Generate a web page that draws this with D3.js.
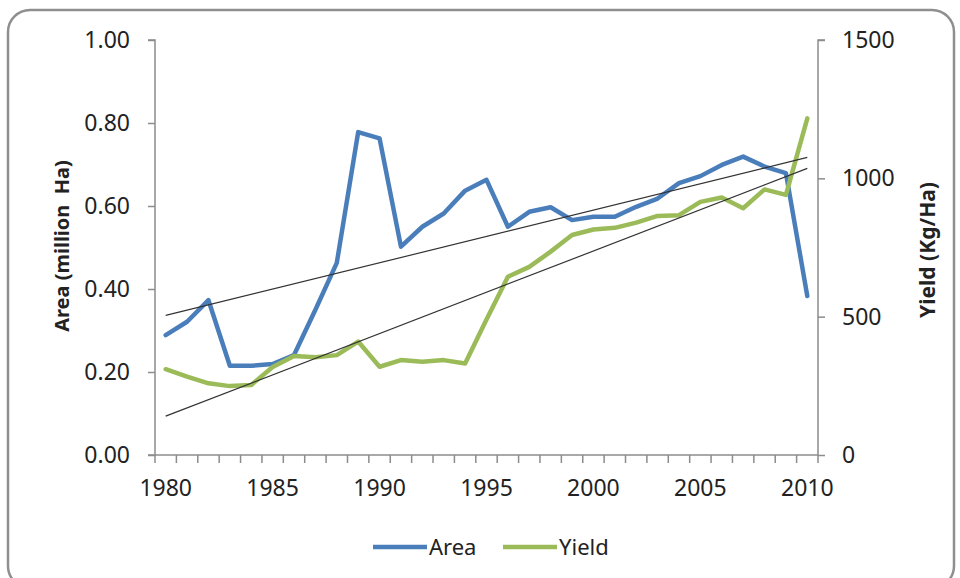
<!DOCTYPE html>
<html>
<head>
<meta charset="utf-8">
<script src="https://cdn.jsdelivr.net/npm/d3@7"></script>
<style>
  html, body { margin: 0; padding: 0; background: #fff; }
  svg { display: block; font-family: "Noto Sans", "Open Sans", sans-serif; }
</style>
</head>
<body>
<svg id="chart" width="960" height="578"></svg>
<script>
// Harvested area (million ha) and yield (kg/ha), 1980–2010
const years = d3.range(1980, 2011);
const area = [0.289, 0.321, 0.373, 0.215, 0.215, 0.219, 0.241, 0.350, 0.463, 0.778,
              0.763, 0.502, 0.550, 0.582, 0.637, 0.663, 0.550, 0.586, 0.597, 0.566,
              0.574, 0.574, 0.598, 0.618, 0.655, 0.672, 0.699, 0.719, 0.695, 0.679, 0.383];
const yieldKg = [310, 283, 259, 249, 253, 318, 358, 353, 361, 410,
                 319, 343, 337, 343, 331, 490, 644, 680, 735, 795,
                 815, 821, 840, 864, 867, 915, 931, 892, 960, 940, 1217];
const areaTicks = [0, 0.2, 0.4, 0.6, 0.8, 1.0];
const yieldTicks = [0, 500, 1000, 1500];
const yearLabels = [1980, 1985, 1990, 1995, 2000, 2005, 2010];
const seriesNames = ["Area", "Yield"];

const colors = { Area: "#4a7ebb", Yield: "#9bbb59" };
const axisColor = "#8c8c8c";
const textColor = "#222";
const tickFont = 23;

const svg = d3.select("#chart");
const plot = { left: 155, right: 818, top: 40, bottom: 455 };

// Outer chart frame
svg.append("rect")
  .attr("x", 8).attr("y", 10).attr("width", 946).attr("height", 578)
  .attr("rx", 22).attr("ry", 22)
  .attr("fill", "#fff").attr("stroke", "#8f8f8f").attr("stroke-width", 2.5);

const x = d3.scaleBand().domain(years).range([plot.left, plot.right]).padding(0);
const xc = yr => x(yr) + x.bandwidth() / 2;
const yA = d3.scaleLinear().domain([0, 1]).range([plot.bottom, plot.top]);
const yY = d3.scaleLinear().domain([0, 1500]).range([plot.bottom, plot.top]);

// Left axis
const gL = svg.append("g").attr("transform", `translate(${plot.left},0)`)
  .call(d3.axisLeft(yA).tickValues(areaTicks).tickFormat(d3.format(".2f"))
    .tickSize(7).tickPadding(18));
// Right axis
const gR = svg.append("g").attr("transform", `translate(${plot.right},0)`)
  .call(d3.axisRight(yY).tickValues(yieldTicks).tickFormat(d3.format("d"))
    .tickSize(7).tickPadding(17));
// Bottom axis: tick marks on category boundaries, labels every five years
const gB = svg.append("g").attr("transform", `translate(0,${plot.bottom})`);
gB.append("line").attr("x1", plot.left - 7).attr("x2", plot.right)
  .attr("stroke", axisColor).attr("stroke-width", 1.5);
gB.selectAll("line.tk").data(years.concat([null])).join("line").attr("class", "tk")
  .attr("x1", (d, i) => i < years.length ? x(d) : plot.right)
  .attr("x2", (d, i) => i < years.length ? x(d) : plot.right)
  .attr("y1", 0).attr("y2", 8)
  .attr("stroke", axisColor).attr("stroke-width", 1.5);
gB.selectAll("text").data(yearLabels).join("text")
  .attr("x", d => xc(d)).attr("y", 41)
  .attr("text-anchor", "middle")
  .attr("font-size", tickFont).attr("fill", textColor)
  .text(d => d);

[gL, gR].forEach(g => {
  g.select(".domain").attr("stroke", axisColor).attr("stroke-width", 1.5);
  g.selectAll(".tick line").attr("stroke", axisColor).attr("stroke-width", 1.5);
  g.selectAll(".tick text").attr("font-size", tickFont).attr("fill", textColor)
    .attr("font-family", "Noto Sans, sans-serif");
});
gL.select(".domain").attr("d", `M-7,${plot.top}H0V${plot.bottom}`);
gR.select(".domain").attr("d", `M7,${plot.top}H0V${plot.bottom}`);

// Axis titles
svg.append("text")
  .attr("transform", `translate(69,246) rotate(-90)`)
  .attr("text-anchor", "middle").attr("font-size", 20).attr("font-weight", "bold")
  .attr("fill", textColor).attr("xml:space", "preserve")
  .text("Area (million  Ha)");
svg.append("text")
  .attr("transform", `translate(935,250) rotate(-90)`)
  .attr("text-anchor", "middle").attr("font-size", 21).attr("font-weight", "bold")
  .attr("fill", textColor)
  .text("Yield (Kg/Ha)");

// Least-squares trend line through a series
function trend(vals) {
  const n = vals.length;
  const mx = d3.mean(d3.range(n));
  const my = d3.mean(vals);
  let sxy = 0, sxx = 0;
  vals.forEach((v, i) => { sxy += (i - mx) * (v - my); sxx += (i - mx) * (i - mx); });
  const b = sxy / sxx, a = my - b * mx;
  return [a, a + b * (n - 1)];
}

const line = (scale) => d3.line().x((d, i) => xc(years[i])).y(d => scale(d));

// Series lines
svg.append("path").datum(area)
  .attr("d", line(yA)).attr("fill", "none")
  .attr("stroke", colors.Area).attr("stroke-width", 4.5)
  .attr("stroke-linejoin", "round").attr("stroke-linecap", "round");
svg.append("path").datum(yieldKg)
  .attr("d", line(yY)).attr("fill", "none")
  .attr("stroke", colors.Yield).attr("stroke-width", 4.5)
  .attr("stroke-linejoin", "round").attr("stroke-linecap", "round");

// Linear trend lines
[[area, yA], [yieldKg, yY]].forEach(([vals, scale]) => {
  const [v0, v1] = trend(vals);
  svg.append("line")
    .attr("x1", xc(years[0])).attr("y1", scale(v0))
    .attr("x2", xc(years[years.length - 1])).attr("y2", scale(v1))
    .attr("stroke", "#333").attr("stroke-width", 1.2);
});

// Legend
const legend = svg.append("g").attr("transform", "translate(0,547)");
const legendPos = { Area: 373, Yield: 503 };
seriesNames.forEach(name => {
  const lx = legendPos[name];
  legend.append("line").attr("x1", lx).attr("x2", lx + 54).attr("y1", 0).attr("y2", 0)
    .attr("stroke", colors[name]).attr("stroke-width", 4.5);
  legend.append("text").attr("x", lx + 56).attr("y", 8)
    .attr("font-size", 22).attr("fill", textColor).text(name);
});
</script>
</body>
</html>
